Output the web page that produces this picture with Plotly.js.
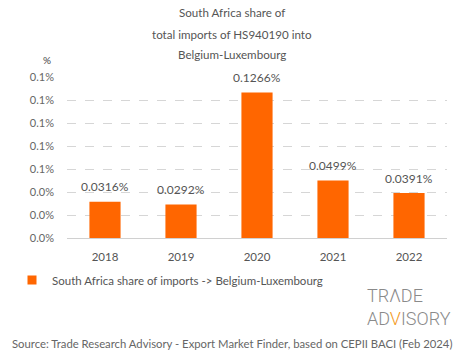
<!DOCTYPE html>
<html>
<head>
<meta charset="utf-8">
<script src="https://cdn.plot.ly/plotly-3.0.1.min.js"></script>
<style>html,body{margin:0;padding:0;background:#fff;}#chart{width:465px;height:359px;}</style>
</head>
<body>
<div id="chart"></div>
<script>
const years = ['2018', '2019', '2020', '2021', '2022'];
const shares = [0.0316, 0.0292, 0.1266, 0.0499, 0.0391];
const seriesName = 'South Africa share of imports -> Belgium-Luxembourg';
const titleLines = ['South Africa share of', 'total imports of HS940190 into', 'Belgium-Luxembourg'];
const sourceText = 'Source: Trade Research Advisory - Export Market Finder, based on CEPII BACI (Feb 2024)';

const FONT = 'Lato, "Open Sans", sans-serif';
const ORANGE = '#ff6600';
const W = 465, H = 359;
const L = 67, R = 18, T = 77, B = 121;
const PW = W - L - R, PH = H - T - B;
const px = x => (x - L) / PW;
const py = y => (H - B - y) / PH;

const annotations = [];
years.forEach((yr, i) => {
  annotations.push({
    x: i, y: shares[i], xref: 'x', yref: 'y',
    text: shares[i].toFixed(4) + '%', showarrow: false,
    yanchor: 'middle', yshift: 15,
    font: {family: FONT, size: 12, color: '#555'}
  });
});
const titleY = [12, 34, 55];
titleLines.forEach((t, i) => {
  annotations.push({
    x: px(232), y: py(titleY[i]), xref: 'paper', yref: 'paper',
    text: t, showarrow: false, xanchor: 'center', yanchor: 'middle',
    font: {family: FONT, size: 11.6, color: '#555'}
  });
});
annotations.push({
  x: px(47), y: py(60), xref: 'paper', yref: 'paper', text: '%', showarrow: false,
  xanchor: 'center', yanchor: 'middle', font: {family: FONT, size: 10, color: '#444'}
});
annotations.push({
  x: px(232), y: py(343), xref: 'paper', yref: 'paper', text: sourceText, showarrow: false,
  xanchor: 'center', yanchor: 'middle', font: {family: FONT, size: 11.3, color: '#666'}
});
annotations.push({
  x: px(365), y: py(307), xref: 'paper', yref: 'paper',
  text: 'TR\u039BDE<br>AD<span style="color:#f39a1e">V</span>ISORY', showarrow: false,
  xanchor: 'left', yanchor: 'middle', align: 'left',
  font: {family: 'Roboto, sans-serif', size: 18, color: '#8a8a8a', weight: 300}
});

const data = [{
  type: 'bar', x: years, y: shares, name: seriesName, showlegend: false,
  marker: {color: ORANGE}, width: 0.41, hoverinfo: 'none'
}, {
  type: 'scatter', mode: 'markers', x: [null], y: [null], name: seriesName,
  marker: {symbol: 'square', size: 9, color: ORANGE}, hoverinfo: 'none', showlegend: true
}];

const layout = {
  width: W, height: H,
  margin: {l: L, r: R, t: T, b: B, pad: 0},
  paper_bgcolor: '#fff', plot_bgcolor: '#fff',
  font: {family: FONT, color: '#666', size: 11},
  showlegend: true,
  legend: {
    orientation: 'h', x: px(12), y: py(280), xanchor: 'left', yanchor: 'middle',
    font: {family: FONT, size: 11.5, color: '#555'}, bgcolor: 'rgba(0,0,0,0)'
  },
  xaxis: {
    type: 'category', range: [-0.5, 4.5], showgrid: false, zeroline: false,
    showline: true, linecolor: '#d0d0d0', linewidth: 1, ticks: '',
    ticklabelstandoff: 8,
    tickfont: {family: FONT, size: 11.5, color: '#555'}
  },
  yaxis: {
    range: [0, 0.14], tick0: 0, dtick: 0.02, tickformat: '.1f', ticksuffix: '%',
    showgrid: true, gridcolor: '#d6d6d6', griddash: 'dash', gridwidth: 1,
    zeroline: false, showline: false, ticks: '', ticklabelstandoff: 12,
    tickfont: {family: FONT, size: 11, color: '#666'}
  },
  annotations: annotations,
  bargap: 0.59
};

Plotly.newPlot('chart', data, layout, {displayModeBar: false, staticPlot: true});
</script>
</body>
</html>
